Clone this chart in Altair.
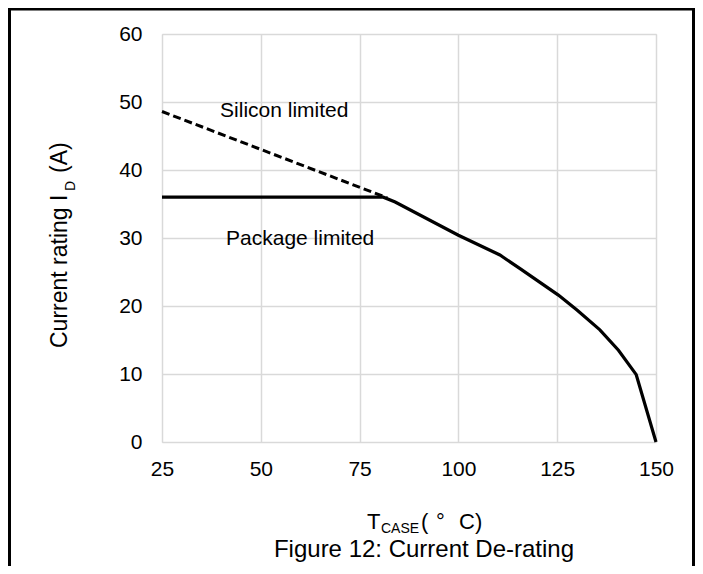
import altair as alt
import pandas as pd

# Package-limited / actual derating curve (solid)
pkg_t = [25, 81, 84, 100, 110.5, 115.6, 125.3, 130, 135.8, 140.5, 145, 150]
pkg_i = [36, 36, 35.3, 30.4, 27.5, 25.5, 21.6, 19.4, 16.5, 13.5, 9.9, 0]

# Silicon-limited extension (dashed)
si_t = [25, 82]
si_i = [48.6, 35.9]

x_ticks = [25, 50, 75, 100, 125, 150]
y_ticks = [0, 10, 20, 30, 40, 50, 60]

label_text = ["Silicon limited", "Package limited"]
label_t = [39.7, 41.2]
label_i = [47.75, 28.9]

FONT = "Liberation Sans"

pkg_df = pd.DataFrame({"T": pkg_t, "I": pkg_i})
si_df = pd.DataFrame({"T": si_t, "I": si_i})
lab_df = pd.DataFrame({"T": label_t, "I": label_i, "text": label_text})

xs = alt.Scale(domain=[25, 150], nice=False, zero=False)
ys = alt.Scale(domain=[0, 60], nice=False)

xax = alt.Axis(values=x_ticks, title=None, grid=True, gridColor="#d9d9d9", gridWidth=1.5,
               ticks=False, domain=False, labelFontSize=21, labelFont=FONT, labelColor="black",
               labelPadding=16, labelOverlap=False, labelFlush=False)
yax = alt.Axis(values=y_ticks, title=None, grid=True, gridColor="#d9d9d9", gridWidth=1.5,
               ticks=False, domain=False, labelFontSize=21, labelFont=FONT, labelColor="black",
               labelPadding=20, labelOverlap=False, labelFlush=False)

base_pkg = alt.Chart(pkg_df).mark_line(color="black", strokeWidth=3.2).encode(
    x=alt.X("T:Q", scale=xs, axis=xax),
    y=alt.Y("I:Q", scale=ys, axis=yax),
)
si_line = alt.Chart(si_df).mark_line(color="black", strokeWidth=3, strokeDash=[8, 4]).encode(
    x=alt.X("T:Q", scale=xs),
    y=alt.Y("I:Q", scale=ys),
)
labels = alt.Chart(lab_df).mark_text(font=FONT, fontSize=21, align="left",
                                     baseline="alphabetic", color="black").encode(
    x=alt.X("T:Q", scale=xs),
    y=alt.Y("I:Q", scale=ys),
    text="text:N",
)

def txt(s, x, y, size=22, angle=0, align="left"):
    return alt.Chart(pd.DataFrame({"t": [s]})).mark_text(
        font=FONT, fontSize=size, align=align, baseline="alphabetic",
        color="black", angle=angle
    ).encode(x=alt.value(x), y=alt.value(y), text="t:N")

titles = [
    txt("T", 205, 495),
    txt("CASE", 219, 499, size=14),
    txt("(", 259, 495),
    txt("°", 274, 495),
    txt("C)", 297, 495),
    txt("Figure 12: Current De-rating", 262, 523, size=24, align="center"),
    txt("Current rating I", -95.5, 314, size=23, angle=270),
    txt("D", -87, 157, size=14, angle=270),
    txt("(A)", -95.5, 139, size=23, angle=270),
]

def rule(**kw):
    return alt.Chart(pd.DataFrame({"a": [0]})).mark_rule(color="black", strokeWidth=3).encode(**kw)

frame = [
    rule(x=alt.value(-152.5), y=alt.value(-26), y2=alt.value(532)),
    rule(x=alt.value(531.5), y=alt.value(-26), y2=alt.value(532)),
    rule(x=alt.value(-154), x2=alt.value(533), y=alt.value(-25)),
]

chart = alt.layer(base_pkg, si_line, labels, *titles, *frame).properties(
    width=494, height=408,
    autosize=alt.AutoSizeParams(type="none"),
    padding={"left": 154, "top": 26, "right": 39, "bottom": 124},
).configure_view(stroke="black", strokeWidth=2).configure(background="white")

chart.save("out.html", embed_options={"renderer": "svg", "actions": False})
